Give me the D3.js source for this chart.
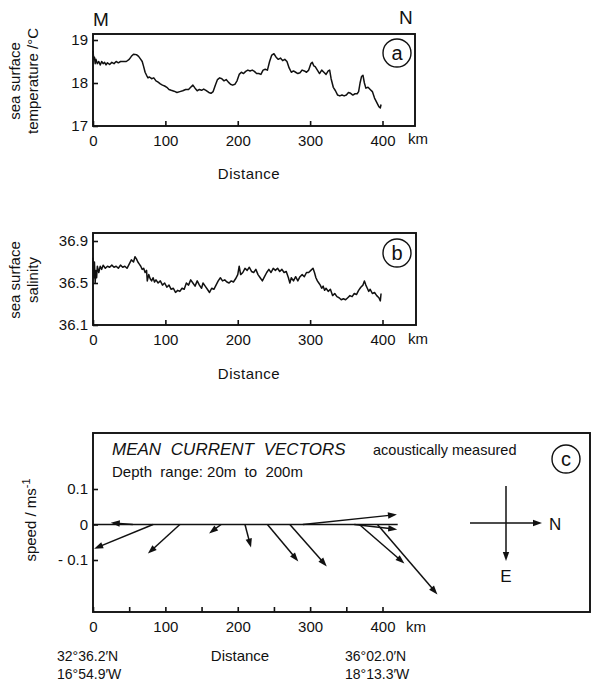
<!DOCTYPE html>
<html>
<head>
<script src="https://cdn.jsdelivr.net/npm/d3@7"></script>
<style>
  body { margin: 0; background: #fff; }
  svg { font-family: "Liberation Sans", Arial, sans-serif; }
  text { fill: #111; }
</style>
</head>
<body>
<svg id="fig" width="592" height="683"></svg>
<script>
// ---- data ----
// sea surface temperature along track, [km, degC]
var sstTrack = [[0,18.75],[1,18.55],[2,18.6],[3,18.45],[4,18.55],[6,18.45],[8,18.5],[10,18.42],[12,18.5],[14,18.45],
  [16,18.48],[18,18.42],[20,18.47],[23,18.43],[26,18.48],[29,18.45],[32,18.5],[35,18.47],[38,18.5],[42,18.5],
  [46,18.5],[50,18.55],[53,18.62],[56,18.67],[60,18.66],[63,18.62],[66,18.55],[68,18.5],[70,18.38],[72,18.25],
  [74,18.18],[76,18.12],[78,18.14],[81,18.1],[84,18.12],[87,18.05],[90,18.02],[93,17.98],[96,17.95],[99,17.93],
  [102,17.9],[105,17.85],[108,17.83],[112,17.81],[116,17.78],[120,17.8],[124,17.82],[128,17.85],[132,17.85],[135,17.9],
  [138,17.95],[141,17.88],[144,17.82],[147,17.85],[150,17.83],[153,17.86],[156,17.83],[160,17.78],[163,17.76],[166,17.8],
  [169,17.95],[172,18.08],[175,18.12],[178,18.1],[181,18.05],[184,18.08],[187,18.02],[190,17.97],[193,17.95],[196,17.97],
  [199,18.05],[202,18.2],[205,18.25],[208,18.22],[211,18.27],[214,18.3],[217,18.28],[220,18.3],[223,18.27],[226,18.22],
  [229,18.22],[232,18.2],[235,18.3],[238,18.32],[241,18.3],[244,18.5],[247,18.65],[250,18.68],[253,18.6],[256,18.55],
  [259,18.58],[262,18.52],[265,18.55],[268,18.5],[271,18.35],[274,18.25],[277,18.28],[280,18.25],[283,18.22],[286,18.24],
  [289,18.3],[292,18.28],[295,18.25],[298,18.3],[301,18.45],[303,18.48],[305,18.4],[307,18.38],[310,18.3],[313,18.22],
  [316,18.3],[319,18.25],[322,18.2],[325,18.28],[327,18.3],[329,18.1],[332,17.9],[335,17.82],[338,17.72],[341,17.7],
  [344,17.72],[347,17.7],[350,17.72],[353,17.78],[356,17.76],[359,17.72],[362,17.75],[365,17.75],[367,17.8],[369,18.0],
  [371,18.15],[373,18.18],[375,18.0],[377,17.88],[380,17.9],[383,17.85],[386,17.8],[389,17.65],[392,17.55],[395,17.45],
  [397,17.42],[398,17.5]];

// sea surface salinity along track, [km, salinity]
var sssTrack = [[0,36.74],[1,36.55],[2,36.7],[3,36.5],[4,36.62],[5,36.55],[6,36.66],[8,36.6],[10,36.66],[12,36.63],
  [14,36.67],[17,36.64],[20,36.66],[23,36.65],[26,36.67],[29,36.65],[32,36.66],[35,36.64],[38,36.67],[41,36.65],
  [44,36.66],[47,36.64],[50,36.68],[53,36.72],[56,36.7],[58,36.75],[60,36.73],[62,36.7],[64,36.68],[66,36.66],
  [68,36.63],[70,36.64],[72,36.6],[74,36.62],[75,36.52],[77,36.58],[79,36.54],[81,36.52],[83,36.55],[85,36.51],
  [87,36.53],[90,36.5],[93,36.52],[96,36.48],[99,36.5],[102,36.46],[105,36.48],[108,36.44],[111,36.45],[114,36.41],
  [117,36.43],[120,36.42],[123,36.45],[126,36.44],[129,36.5],[132,36.48],[135,36.53],[138,36.5],[141,36.47],[144,36.52],
  [147,36.48],[150,36.45],[152,36.5],[155,36.47],[158,36.44],[161,36.41],[164,36.45],[167,36.44],[170,36.48],[173,36.52],
  [176,36.55],[179,36.52],[182,36.53],[185,36.51],[188,36.5],[191,36.52],[194,36.51],[197,36.54],[200,36.58],[202,36.66],
  [204,36.58],[207,36.6],[210,36.64],[213,36.62],[216,36.65],[219,36.61],[222,36.6],[225,36.63],[228,36.58],[231,36.55],
  [234,36.52],[237,36.56],[240,36.6],[243,36.63],[246,36.6],[249,36.64],[252,36.62],[255,36.64],[258,36.61],[261,36.63],
  [264,36.6],[267,36.61],[270,36.55],[272,36.5],[274,36.55],[277,36.52],[280,36.56],[283,36.52],[286,36.56],[289,36.58],
  [292,36.56],[295,36.6],[298,36.6],[301,36.62],[304,36.64],[306,36.6],[308,36.55],[310,36.52],[312,36.5],[314,36.48],
  [316,36.45],[318,36.47],[320,36.43],[322,36.45],[325,36.42],[328,36.44],[331,36.38],[334,36.4],[337,36.37],[340,36.36],
  [343,36.34],[346,36.35],[349,36.34],[352,36.36],[355,36.38],[358,36.37],[361,36.4],[364,36.39],[367,36.43],[370,36.46],
  [373,36.48],[375,36.52],[377,36.48],[379,36.45],[381,36.42],[383,36.44],[386,36.4],[389,36.41],[392,36.38],[395,36.36],
  [397,36.33],[398,36.4]];

// mean current vectors (20-200 m): position along track, north and east components (m/s)
var vecKm    = [55, 83, 120, 177, 210, 241, 272, 290, 361, 368, 393];
var vecNorth = [-0.062, -0.166, -0.09, -0.034, 0.017, 0.087, 0.104, 0.265, 0.121, 0.127, 0.169];
var vecEast  = [-0.005, 0.068, 0.082, 0.025, 0.065, 0.104, 0.118, -0.028, 0.014, 0.11, 0.197];
var trackEndKm = 421;

var kmTicks = [0, 100, 200, 300, 400];
var sstTicks = [17, 18, 19];
var sssTicks = [36.1, 36.5, 36.9];
var speedTicks = [-0.1, 0, 0.1];

// ---- drawing ----
var svg = d3.select('#fig');
var x = d3.scaleLinear().domain([0, 400]).range([93, 382.5]);

function frame(g, x0, y0, x1, y1) {
    g.append('rect')
        .attr('x', x0).attr('y', y0)
        .attr('width', x1 - x0).attr('height', y1 - y0)
        .attr('fill', 'none').attr('stroke', '#111').attr('stroke-width', 1.9);
}

function badge(cx, cy, letter) {
    svg.append('circle').attr('cx', cx).attr('cy', cy).attr('r', 14)
        .attr('fill', 'none').attr('stroke', '#111').attr('stroke-width', 1.4);
    svg.append('text').attr('x', cx).attr('y', cy + 7)
        .attr('text-anchor', 'middle').style('font-size', '20px').text(letter);
}

function styleAxis(g) {
    g.select('.domain').remove();
    g.selectAll('line').attr('stroke', '#111').attr('stroke-width', 1.6);
    g.selectAll('text').style('font-size', '15px').attr('fill', '#111');
}

function linePanel(data, y, ticks, fmt, top, right, titleLines, titleY, badgeY, letter, labelsY) {
    var g = svg.append('g');
    var bottom = y.range()[0];
    frame(g, 93, top, right, bottom);

    g.append('g').attr('transform', 'translate(93,0)')
        .call(d3.axisLeft(y).tickValues(ticks).tickFormat(fmt).tickSize(-5).tickPadding(5))
        .call(styleAxis);
    g.append('g').attr('transform', 'translate(0,' + bottom + ')')
        .call(d3.axisBottom(x).tickValues(kmTicks).tickFormat(d3.format('d')).tickSize(-5).tickPadding(9))
        .call(styleAxis);
    g.append('text').attr('x', 408).attr('y', labelsY).style('font-size', '15px').text('km');

    var line = d3.line()
        .x(function (d) { return x(d[0]); })
        .y(function (d) { return y(d[1]); });
    g.append('path').datum(data).attr('d', line)
        .attr('fill', 'none').attr('stroke', '#111').attr('stroke-width', 1.5)
        .attr('stroke-linejoin', 'round');

    g.append('text').attr('x', 249).attr('y', labelsY + 35)
        .attr('text-anchor', 'middle').style('font-size', '15px').style('letter-spacing', '0.5px').text('Distance');

    var t = g.append('text')
        .attr('transform', 'translate(20,' + titleY + ') rotate(-90)')
        .attr('text-anchor', 'middle').style('font-size', '15px');
    titleLines.forEach(function (s, i) {
        t.append('tspan').attr('x', 0).attr('dy', i === 0 ? 0 : 18).text(s);
    });
    badge(397, badgeY, letter);
}

// (a) temperature
var yT = d3.scaleLinear().domain([17, 19]).range([126, 40]);
linePanel(sstTrack, yT, sstTicks, d3.format('d'), 34, 415,
    ['sea surface', 'temperature /\u00b0C'], 81, 53, 'a', 144);
svg.append('text').attr('x', 93).attr('y', 26).style('font-size', '19px').text('M');
svg.append('text').attr('x', 399).attr('y', 24).style('font-size', '19px').text('N');

// (b) salinity
var yS = d3.scaleLinear().domain([36.1, 36.9]).range([325, 241]);
linePanel(sssTrack, yS, sssTicks, d3.format('.1f'), 233, 416,
    ['sea surface', 'salinity'], 280, 253, 'b', 344);

// (c) current vectors
var yV = d3.scaleLinear().domain([-0.1, 0.1]).range([560, 489]);
var k = yV(0) - yV(0.1);            // px per 0.1 m/s, same on both directions
var gc = svg.append('g');
frame(gc, 93, 433, 590, 612);

var minorKm = d3.range(0, 401, 50);
gc.append('g').attr('transform', 'translate(0,612)')
    .call(d3.axisBottom(x).tickValues(minorKm)
        .tickFormat(function (d) { return d % 100 === 0 ? d : ''; })
        .tickSize(-5).tickPadding(9))
    .call(styleAxis);
gc.append('g').attr('transform', 'translate(93,0)')
    .call(d3.axisLeft(yV).tickValues(speedTicks)
        .tickFormat(function (d) { return d === 0 ? '0' : (d < 0 ? '- 0.1' : '0.1'); })
        .tickSize(-5).tickPadding(5))
    .call(styleAxis);
gc.append('text').attr('x', 406).attr('y', 632).style('font-size', '15px').text('km');

// zero line along the track
gc.append('line').attr('x1', x(0)).attr('x2', x(trackEndKm))
    .attr('y1', yV(0)).attr('y2', yV(0))
    .attr('stroke', '#111').attr('stroke-width', 1.6);

function arrow(g, x0, y0, x1, y1, w) {
    var dx = x1 - x0, dy = y1 - y0, len = Math.sqrt(dx * dx + dy * dy);
    var ux = dx / len, uy = dy / len, hl = 9, hw = 3.2;
    g.append('line').attr('x1', x0).attr('y1', y0)
        .attr('x2', x1 - ux * hl * 0.6).attr('y2', y1 - uy * hl * 0.6)
        .attr('stroke', '#111').attr('stroke-width', w);
    var bx = x1 - ux * hl, by = y1 - uy * hl;
    g.append('path')
        .attr('d', 'M' + x1 + ',' + y1 + 'L' + (bx - uy * hw) + ',' + (by + ux * hw) +
            'L' + (bx + uy * hw) + ',' + (by - ux * hw) + 'Z')
        .attr('fill', '#111');
}

vecKm.forEach(function (km, i) {
    var x0 = x(km), y0 = yV(0);
    var x1 = x0 + vecNorth[i] / 0.1 * k;
    var y1 = y0 + vecEast[i] / 0.1 * k;
    arrow(gc, x0, y0, x1, y1, 1.5);
});

// compass
arrow(gc, 470, 523, 542, 523, 1.5);
arrow(gc, 506, 486, 506, 561, 1.5);
gc.append('text').attr('x', 549).attr('y', 530).style('font-size', '17px').text('N');
gc.append('text').attr('x', 506).attr('y', 582).attr('text-anchor', 'middle').style('font-size', '17px').text('E');

gc.append('text').attr('x', 112).attr('y', 455)
    .style('font-size', '17px').style('font-style', 'italic').style('word-spacing', '5px')
    .text('MEAN CURRENT VECTORS');
gc.append('text').attr('x', 373).attr('y', 455).style('font-size', '14.5px').text('acoustically measured');
gc.append('text').attr('x', 112).attr('y', 477).style('font-size', '15px')
    .attr('xml:space', 'preserve').style('white-space', 'pre')
    .text('Depth  range: 20m  to  200m');
badge(566, 459, 'c');

gc.append('text').attr('transform', 'translate(36,520) rotate(-90)')
    .attr('text-anchor', 'middle').style('font-size', '15px')
    .html('speed / ms<tspan dy="-6" font-size="11">-1</tspan>');

gc.append('text').attr('x', 240).attr('y', 661).attr('text-anchor', 'middle').style('font-size', '15px').text('Distance');
gc.append('text').attr('x', 57).attr('y', 661).style('font-size', '14px').text('32\u00b036.2\u2032N');
gc.append('text').attr('x', 57).attr('y', 679).style('font-size', '14px').text('16\u00b054.9\u2032W');
gc.append('text').attr('x', 345).attr('y', 661).style('font-size', '14px').text('36\u00b002.0\u2032N');
gc.append('text').attr('x', 345).attr('y', 679).style('font-size', '14px').text('18\u00b013.3\u2032W');
</script>
</body>
</html>
